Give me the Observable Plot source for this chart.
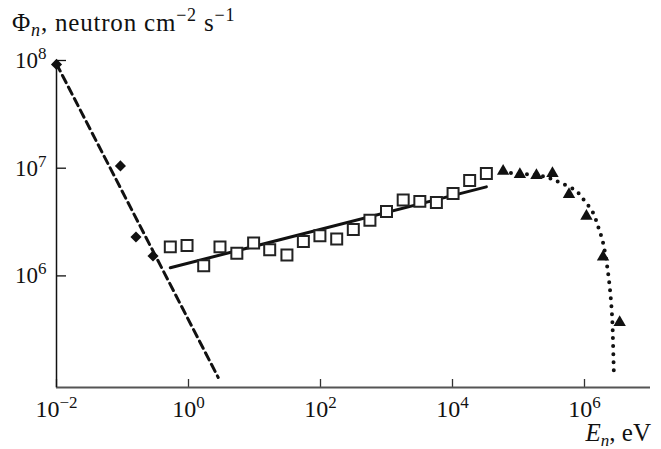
<!DOCTYPE html>
<html><head><meta charset="utf-8">
<script src="https://cdn.jsdelivr.net/npm/d3@7"></script>
<script src="https://cdn.jsdelivr.net/npm/@observablehq/plot@0.6"></script>
<style>body{margin:0;background:#fff} svg{display:block}</style>
</head><body><div id="chart"></div>
<script>
// Diamonds (low-energy data)
const diamondE = [0.01, 0.093, 0.16, 0.29];
const diamondPhi = [9.2e7, 1.05e7, 2.3e6, 1.53e6];
// Open squares (intermediate)
const squareE = [0.53, 0.95, 1.7, 3.0, 5.4, 9.7, 17, 31, 55, 98, 176, 314, 561, 1000, 1790, 3200, 5700, 10200, 18200, 32600];
const squarePhi = [1.86e6, 1.92e6, 1.24e6, 1.86e6, 1.62e6, 2.02e6, 1.75e6, 1.56e6, 2.09e6, 2.36e6, 2.2e6, 2.7e6, 3.28e6, 3.97e6, 5.06e6, 4.92e6, 4.81e6, 5.83e6, 7.69e6, 8.93e6];
// Filled triangles (fast)
const triangleE = [5.85e4, 1.05e5, 1.87e5, 3.27e5, 5.82e5, 1.07e6, 1.91e6, 3.41e6];
const trianglePhi = [9.38e6, 8.74e6, 8.55e6, 8.93e6, 5.7e6, 3.59e6, 1.5e6, 3.7e5];
// Fits
const dashedE = [0.01, 2.82];
const dashedPhi = [9.3e7, 1.14e5];
const solidE = [0.53, 32600];
const solidPhi = [1.19e6, 6.71e6];
const dottedE = [5.85e4, 7.9e4, 1.48e5, 2.65e5, 3.54e5, 4.73e5, 7.53e5, 1.01e6, 1.35e6, 1.6e6, 1.91e6, 2.22e6, 2.47e6, 2.64e6, 2.7e6, 2.79e6];
const dottedPhi = [9.38e6, 8.99e6, 8.75e6, 8.26e6, 7.69e6, 7.16e6, 6.12e6, 4.94e6, 3.85e6, 2.9e6, 2.03e6, 1.19e6, 6.78e5, 3.83e5, 2.5e5, 1.19e5];
// Ticks
const xTicks = [1e-2, 1, 1e2, 1e4, 1e6];
const xTickLabels = ["10|\u22122", "10|0", "10|2", "10|4", "10|6"];
const yTicks = [1e6, 1e7, 1e8];
const yTickLabels = ["10|6", "10|7", "10|8"];
const xDomain = [0.01, 1e7];
const yDomain = [9.2e4, 1e8];

const zip = (xs, ys) => xs.map((x, i) => ({x, y: ys[i]}));

const chart = Plot.plot({
  width: 661, height: 449,
  marginLeft: 56, marginRight: 11, marginTop: 60, marginBottom: 62,
  style: {fontFamily: "'Liberation Serif', 'Times New Roman', serif", fontSize: "21px", color: "#111", background: "#fff"},
  x: {type: "log", domain: xDomain},
  y: {type: "log", domain: yDomain},
  marks: [
    Plot.axisX(xTicks, {anchor: "top", frameAnchor: "bottom", label: null, tickSize: 9, tickFormat: () => "", stroke: "#333", strokeWidth: 1.3}),
    Plot.axisX(xTicks, {anchor: "bottom", label: null, tickSize: 0, tickPadding: 12, fontSize: 24, fill: "#111", tickFormat: d => xTickLabels[xTicks.indexOf(d)]}),
    Plot.axisY(yTicks, {anchor: "right", frameAnchor: "left", label: null, tickSize: 9, tickFormat: () => "", stroke: "#111", strokeWidth: 1.3}),
    Plot.axisY(yTicks, {anchor: "left", label: null, tickSize: 0, tickPadding: 10, fontSize: 23, fill: "#111", tickFormat: d => yTickLabels[yTicks.indexOf(d)]}),
    Plot.ruleY([yDomain[0]], {stroke: "#555", strokeWidth: 2}),
    Plot.ruleX([xDomain[0]], {y1: yDomain[0], y2: yDomain[1], stroke: "#111", strokeWidth: 1.5}),
    Plot.line(zip(dashedE, dashedPhi), {x: "x", y: "y", stroke: "#111", strokeWidth: 3, strokeDasharray: "8,5"}),
    Plot.line(zip(solidE, solidPhi), {x: "x", y: "y", stroke: "#111", strokeWidth: 3}),
    Plot.line(zip(dottedE, dottedPhi), {x: "x", y: "y", stroke: "#111", strokeWidth: 4, strokeDasharray: "0,8", strokeLinecap: "round", curve: "catmull-rom"}),
    Plot.dot(zip(diamondE, diamondPhi), {x: "x", y: "y", symbol: "diamond2", r: 5, fill: "#111", stroke: "none"}),
    Plot.dot(zip(squareE, squarePhi), {x: "x", y: "y", symbol: "square", r: 6.2, fill: "#fff", stroke: "#222", strokeWidth: 2}),
    Plot.dot(zip(triangleE, trianglePhi), {x: "x", y: "y", symbol: "triangle", r: 4.6, fill: "#111", stroke: "none"})
  ]
});

document.getElementById("chart").appendChild(chart);

// Superscript exponents in tick labels
d3.select(chart).selectAll("text").each(function() {
  const t = this.textContent;
  if (!t.includes("|")) return;
  const [base, exp] = t.split("|");
  const sel = d3.select(this);
  sel.text("");
  sel.append("tspan").text(base);
  sel.append("tspan").attr("dy", "-9").attr("font-size", "17px").text(exp);
});

const svg = d3.select(chart);
// Y axis title
const yt = svg.append("text").attr("x", 12).attr("y", 31).attr("text-anchor", "start").attr("font-size", "25px").attr("letter-spacing", "0.8px").attr("fill", "#111");
yt.append("tspan").text("\u03A6");
yt.append("tspan").attr("font-style", "italic").attr("font-size", "18px").attr("dy", "5").text("n");
yt.append("tspan").attr("dy", "-5").text(", neutron cm");
yt.append("tspan").attr("font-size", "18px").attr("dy", "-10").text("\u22122");
yt.append("tspan").attr("dy", "10").text(" s");
yt.append("tspan").attr("font-size", "18px").attr("dy", "-10").text("\u22121");
// X axis title
const xt = svg.append("text").attr("x", 651).attr("y", 441).attr("text-anchor", "end").attr("font-size", "25px").attr("fill", "#111");
xt.append("tspan").attr("font-style", "italic").text("E");
xt.append("tspan").attr("font-style", "italic").attr("font-size", "17px").attr("dy", "5").text("n");
xt.append("tspan").attr("dy", "-5").text(", eV");
</script>
</body></html>
